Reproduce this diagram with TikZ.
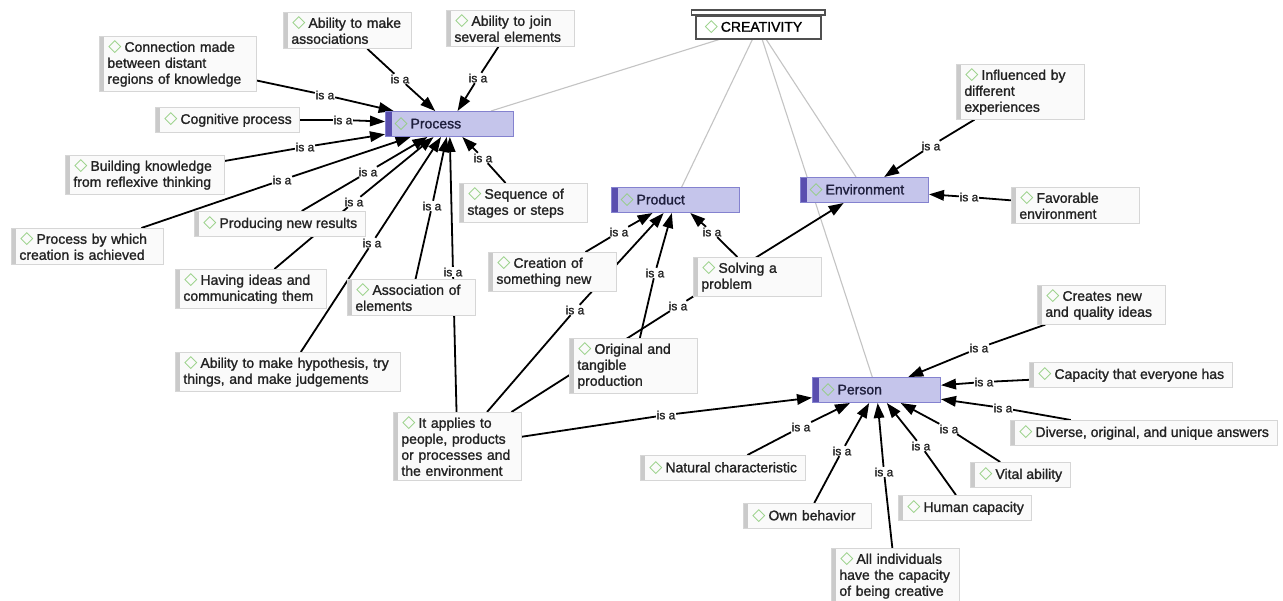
\documentclass[tikz,border=0pt]{standalone}
\usepackage{fontspec}
\setmainfont{Liberation Sans}[FakeBold=1.3]
\newfontfamily\dejavu{DejaVu Sans}
\usetikzlibrary{arrows.meta}
\pgfdeclarelayer{bg}
\pgfsetlayers{bg,main}
\definecolor{conceptfill}{HTML}{C5C5EB}
\definecolor{conceptborder}{HTML}{8482CF}
\definecolor{conceptstripe}{HTML}{5A4FAF}
\definecolor{concepttext}{HTML}{1E1E3C}
\definecolor{leaffill}{HTML}{FAFAFA}
\definecolor{leafborder}{HTML}{D6D6D6}
\definecolor{leafstripe}{HTML}{CACACA}
\definecolor{leaftext}{HTML}{222222}
\definecolor{dgreen}{HTML}{92CE80}
\definecolor{greyline}{HTML}{C4C4C4}
\definecolor{creatborder}{HTML}{505050}
\definecolor{isatext}{HTML}{222222}
\newcommand{\cmdia}{\hspace*{1pt}{\dejavu\fontsize{17}{15}\selectfont\color{dgreen}◇}\hspace{3pt}}
\tikzset{
  box/.style={anchor=north west, inner xsep=8pt, inner ysep=4.5pt, minimum height=25pt,
    font=\fontsize{14}{16}\selectfont, align=left},
  leaf/.style={box, fill=leaffill, draw=leafborder, line width=0.8pt, text=leaftext,
    path picture={\fill[leafstripe] (path picture bounding box.north west) rectangle ([xshift=5pt]path picture bounding box.south west);}},
  concept/.style={box, fill=conceptfill, draw=conceptborder, line width=1pt, text=concepttext, text width=112pt,
    path picture={\fill[conceptstripe] (path picture bounding box.north west) rectangle ([xshift=6pt]path picture bounding box.south west);}},
  rootbox/.style={anchor=north west, fill=white, draw=creatborder, line width=1.5pt, inner xsep=8pt, inner ysep=3pt,
    minimum height=23pt, text width=109pt, font=\fontsize{14}{16}\selectfont, align=left, text=black},
  isa/.style={font=\fontsize{12}{12}\selectfont, inner sep=0.6pt, text=isatext},
  seg/.style={draw=black, line width=1.8pt},
  arr/.style={seg, -{Triangle[length=15pt,width=10.5pt]}},
  greyl/.style={draw=greyline, line width=1.1pt},
}
\begin{document}
\begin{tikzpicture}[x=1pt,y=-1pt]
\useasboundingbox (0,0) rectangle (1283,600);
% root
\node[rootbox] (creat) at (695,15) {\cmdia CREATIVITY};
\draw[creatborder, line width=1.5pt, fill=white] ([xshift=-3.5pt]creat.north west) rectangle ([xshift=3.5pt,yshift=5pt]creat.north east);
% concepts
\node[concept] (process) at (385,111) {\cmdia Process};
\node[concept] (product) at (611,187) {\cmdia Product};
\node[concept] (environment) at (800,177) {\cmdia Environment};
\node[concept] (person) at (812,377) {\cmdia Person};
% leaves
\node[leaf, text width=141pt] (c1) at (99,36) {\cmdia Connection made\\between distant\\regions of knowledge};
\node[leaf, text width=112pt] (c2) at (283,12) {\cmdia Ability to make\\associations};
\node[leaf, text width=112pt] (c3) at (446,10) {\cmdia Ability to join\\several elements};
\node[leaf] (c4) at (155,107) {\cmdia Cognitive process};
\node[leaf, text width=143pt] (c5) at (65,155) {\cmdia Building knowledge\\from reflexive thinking};
\node[leaf, text width=136pt] (c6) at (11,228) {\cmdia Process by which\\creation is achieved};
\node[leaf] (c7) at (194,211) {\cmdia Producing new results};
\node[leaf, text width=135pt] (c8) at (175,269) {\cmdia Having ideas and\\communicating them};
\node[leaf, text width=112pt] (c9) at (347,279) {\cmdia Association of\\elements};
\node[leaf, text width=209pt] (c10) at (175,352) {\cmdia Ability to make hypothesis, try\\things, and make judgements};
\node[leaf, text width=112pt] (c11) at (459,183) {\cmdia Sequence of\\stages or steps};
\node[leaf, text width=112pt] (c12) at (488,252) {\cmdia Creation of\\something new};
\node[leaf, text width=112pt] (c13) at (693,257) {\cmdia Solving a\\problem};
\node[leaf, text width=112pt] (c14) at (569,338) {\cmdia Original and\\tangible\\production};
\node[leaf, text width=112pt] (c15) at (393,412) {\cmdia It applies to\\people, products\\or processes and\\the environment};
\node[leaf, text width=112pt] (c16) at (956,64) {\cmdia Influenced by\\different\\experiences};
\node[leaf, text width=112pt] (c17) at (1011,187) {\cmdia Favorable\\environment};
\node[leaf, text width=112pt] (c18) at (1037,285) {\cmdia Creates new\\and quality ideas};
\node[leaf] (c19) at (1029,362) {\cmdia Capacity that everyone has};
\node[leaf] (c20) at (1010,420) {\cmdia Diverse, original, and unique answers};
\node[leaf] (c21) at (640,455) {\cmdia Natural characteristic};
\node[leaf, text width=112pt] (c22) at (743,503) {\cmdia Own behavior};
\node[leaf, text width=112pt] (c23) at (831,548) {\cmdia All individuals\\have the capacity\\of being creative};
\node[leaf] (c24) at (898,495) {\cmdia Human capacity};
\node[leaf] (c25) at (970,462) {\cmdia Vital ability};
% linking labels
\node[isa] (l1) at (325,95) {is a};
\node[isa] (l2) at (400,79) {is a};
\node[isa] (l3) at (478,78) {is a};
\node[isa] (l4) at (343,120) {is a};
\node[isa] (l5) at (305,147) {is a};
\node[isa] (l6) at (282,180) {is a};
\node[isa] (l7) at (368,172) {is a};
\node[isa] (l8) at (354,202) {is a};
\node[isa] (l9) at (432,206) {is a};
\node[isa] (l10) at (372,243) {is a};
\node[isa] (l11) at (483,158) {is a};
\node[isa] (l12) at (619,232) {is a};
\node[isa] (l13) at (712,232) {is a};
\node[isa] (l14) at (655,273) {is a};
\node[isa] (l15a) at (453,272) {is a};
\node[isa] (l15b) at (575,310) {is a};
\node[isa] (l15c) at (678,306) {is a};
\node[isa] (l15d) at (666,415) {is a};
\node[isa] (l16) at (931,146) {is a};
\node[isa] (l17) at (969,197) {is a};
\node[isa] (l18) at (979,348) {is a};
\node[isa] (l19) at (984,382) {is a};
\node[isa] (l20) at (1003,408) {is a};
\node[isa] (l21) at (801,427) {is a};
\node[isa] (l22) at (842,451) {is a};
\node[isa] (l23) at (884,472) {is a};
\node[isa] (l24) at (921,446) {is a};
\node[isa] (l25) at (949,429) {is a};
\begin{pgfonlayer}{bg}
\fill[white] (0,0) rectangle (1283,600);
\draw[greyl] (creat) -- (process);
\draw[greyl] (creat) -- (product);
\draw[greyl] (creat) -- (environment);
\draw[greyl] (creat) -- (person);
% process
\draw[seg] (c1) -- (l1); \draw[arr] (l1) -- (process);
\draw[seg] (c2) -- (l2); \draw[arr] (l2) -- (process);
\draw[seg] (c3) -- (l3); \draw[arr] (l3) -- (process);
\draw[seg] (c4) -- (l4); \draw[arr] (l4) -- (process);
\draw[seg] (c5) -- (l5); \draw[arr] (l5) -- (process);
\draw[seg] (c6) -- (l6); \draw[arr] (l6) -- (process);
\draw[seg] (c7) -- (l7); \draw[arr] (l7) -- (process);
\draw[seg] (c8) -- (l8); \draw[arr] (l8) -- (process);
\draw[seg] (c9) -- (l9); \draw[arr] (l9) -- (process);
\draw[seg] (c10) -- (l10); \draw[arr] (l10) -- (process);
\draw[seg] (c11) -- (l11); \draw[arr] (l11) -- (process);
\draw[seg] (c15) -- (l15a); \draw[arr] (l15a) -- (process);
% product
\draw[seg] (c12) -- (l12); \draw[arr] (l12) -- (product);
\draw[seg] (c13) -- (l13); \draw[arr] (l13) -- (product);
\draw[seg] (c14) -- (l14); \draw[arr] (l14) -- (product);
\draw[seg] (c15) -- (l15b); \draw[arr] (l15b) -- (product);
% environment
\draw[seg] (c15) -- (l15c); \draw[arr] (l15c) -- (environment);
\draw[seg] (c16) -- (l16); \draw[arr] (l16) -- (environment);
\draw[seg] (c17) -- (l17); \draw[arr] (l17) -- (environment);
% person
\draw[seg] (c15) -- (l15d); \draw[arr] (l15d) -- (person);
\draw[seg] (c18) -- (l18); \draw[arr] (l18) -- (person);
\draw[seg] (c19) -- (l19); \draw[arr] (l19) -- (person);
\draw[seg] (c20) -- (l20); \draw[arr] (l20) -- (person);
\draw[seg] (c21) -- (l21); \draw[arr] (l21) -- (person);
\draw[seg] (c22) -- (l22); \draw[arr] (l22) -- (person);
\draw[seg] (c23) -- (l23); \draw[arr] (l23) -- (person);
\draw[seg] (c24) -- (l24); \draw[arr] (l24) -- (person);
\draw[seg] (c25) -- (l25); \draw[arr] (l25) -- (person);
\end{pgfonlayer}
\end{tikzpicture}
\end{document}
